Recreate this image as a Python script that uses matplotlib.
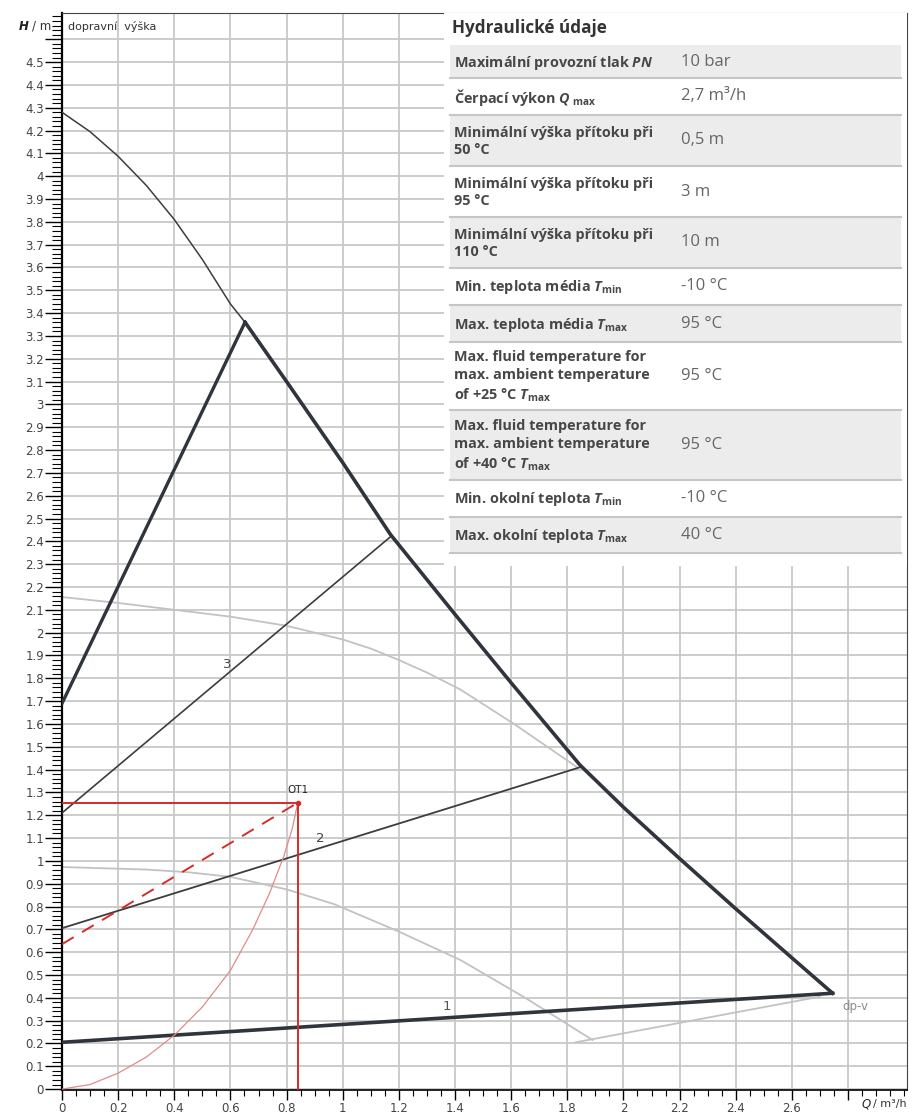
import matplotlib.pyplot as plt
import numpy as np
from matplotlib import ticker
from matplotlib.patches import Rectangle

plt.rcParams.update({'font.family': 'DejaVu Sans', 'font.size': 8.5,
                     'mathtext.fontset': 'custom',
                     'mathtext.rm': 'Open Sans:bold',
                     'mathtext.it': 'Open Sans:bold:italic',
                     'mathtext.bf': 'Open Sans:bold'})

DARK = '#2f343d'
THIN = '#3d3d3d'
LIGHT = '#c2c2c2'
RED = '#d52b2b'
PINK = '#e38a8a'

# pump curves (Q in m3/h, H in m)
max_q = [0, 0.1, 0.2, 0.3, 0.4, 0.5, 0.6, 0.652]
max_h = [4.28, 4.195, 4.087, 3.96, 3.81, 3.635, 3.44, 3.36]
edge_q = [0.652, 0.8, 1.0, 1.17, 1.4, 1.6, 1.845, 2.0, 2.2, 2.4, 2.6, 2.745]
edge_h = [3.36, 3.10, 2.745, 2.43, 2.08, 1.78, 1.42, 1.235, 1.01, 0.79, 0.575, 0.42]
left_q = [0, 0.652]
left_h = [1.69, 3.36]
line1_q = [0, 2.745]
line1_h = [0.205, 0.42]
line2_q = [0, 1.845]
line2_h = [0.705, 1.41]
line3_q = [0, 1.17]
line3_h = [1.21, 2.42]
gray_up_q = [0, 0.2, 0.4, 0.6, 0.8, 1.0, 1.1, 1.2, 1.3, 1.42, 1.61, 1.835]
gray_up_h = [2.156, 2.13, 2.10, 2.07, 2.03, 1.97, 1.93, 1.88, 1.825, 1.75, 1.60, 1.41]
gray_lo_q = [0, 0.3, 0.45, 0.6, 0.8, 0.97, 1.2, 1.42, 1.65, 1.89]
gray_lo_h = [0.973, 0.962, 0.95, 0.93, 0.875, 0.81, 0.69, 0.565, 0.40, 0.215]
gray_tail_q = [1.83, 2.70]
gray_tail_h = [0.205, 0.405]

# operating point OT1 and system curve
op_q, op_h = 0.84, 1.255
dash_q = [0, 0.84]
dash_h = [0.635, 1.255]
sys_q = [0, 0.1, 0.2, 0.3, 0.4, 0.5, 0.6, 0.68, 0.74, 0.79, 0.82, 0.84]
sys_h = [0, 0.02, 0.07, 0.14, 0.236, 0.36, 0.52, 0.70, 0.86, 1.02, 1.14, 1.255]

# table
table_title = 'Hydraulické údaje'
row_labels = ['Maximální provozní tlak $PN$',
              'Čerpací výkon $Q_{\\ \\mathrm{max}}$',
              'Minimální výška přítoku při\n50 °C',
              'Minimální výška přítoku při\n95 °C',
              'Minimální výška přítoku při\n110 °C',
              'Min. teplota média $T_{\\mathrm{min}}$',
              'Max. teplota média $T_{\\mathrm{max}}$',
              'Max. fluid temperature for\nmax. ambient temperature\nof +25 °C $T_{\\mathrm{max}}$',
              'Max. fluid temperature for\nmax. ambient temperature\nof +40 °C $T_{\\mathrm{max}}$',
              'Min. okolní teplota $T_{\\mathrm{min}}$',
              'Max. okolní teplota $T_{\\mathrm{max}}$']
row_values = ['10 bar', '2,7 m³/h', '0,5 m', '3 m', '10 m', '-10 °C', '95 °C',
              '95 °C', '95 °C', '-10 °C', '40 °C']

W, H = 913, 1117
fig = plt.figure(figsize=(W / 100, H / 100), dpi=100)
ax = fig.add_axes([62 / W, 1 - 1090 / H, 845 / W, 1077 / H])

ax.set_xlim(0, 3.01)
ax.set_ylim(-0.004, 4.715)

ax.plot(gray_up_q, gray_up_h, color=LIGHT, lw=1.3, zorder=2)
ax.plot(gray_lo_q, gray_lo_h, color=LIGHT, lw=1.3, zorder=2)
ax.plot(gray_tail_q, gray_tail_h, color=LIGHT, lw=1.3, zorder=2)
ax.plot(max_q, max_h, color=THIN, lw=1.1, zorder=3)
ax.plot(line2_q, line2_h, color=THIN, lw=1.3, zorder=3)
ax.plot(line3_q, line3_h, color=THIN, lw=1.2, zorder=3)
ax.plot(edge_q, edge_h, color=DARK, lw=2.6, zorder=4)
ax.plot(left_q, left_h, color=DARK, lw=2.4, zorder=4)
ax.plot(line1_q, line1_h, color=DARK, lw=2.6, zorder=4)

ax.plot(sys_q, sys_h, color=PINK, lw=0.9, zorder=5)
ax.plot(dash_q, dash_h, color=RED, lw=1.4, ls=(0, (7, 5)), zorder=5)
ax.plot([0, op_q], [op_h, op_h], color=RED, lw=1.4, zorder=5)
ax.plot([op_q, op_q], [op_h, 0], color=RED, lw=1.4, zorder=5)
ax.plot([op_q], [op_h], 'o', color=RED, ms=3, zorder=6)
ax.text(op_q, op_h + 0.035, 'OT1', ha='center', va='bottom', fontsize=7.5, color='#222222')

ax.text(1.37, 0.36, '1', fontsize=9.5, color='#555555', ha='center', va='center')
ax.text(0.92, 1.10, '2', fontsize=9.5, color='#444444', ha='center', va='center')
ax.text(0.59, 1.86, '3', fontsize=9.5, color='#444444', ha='center', va='center')
ax.text(2.78, 0.36, 'dp-v', fontsize=8.5, color='#8a8a8a', ha='left', va='center')
ax.text(0.02, 4.655, 'dopravní  výška', fontsize=8, color='#333333', ha='left', va='center')

# axes, ticks, grid
xmaj = np.arange(0, 2.81, 0.2)
ymaj = np.arange(0, 4.61, 0.1)
ax.xaxis.set_major_locator(ticker.FixedLocator(xmaj))
ax.xaxis.set_minor_locator(ticker.MultipleLocator(0.05))
ax.yaxis.set_major_locator(ticker.FixedLocator(ymaj))
ax.yaxis.set_minor_locator(ticker.MultipleLocator(0.02))
ax.xaxis.set_major_formatter(ticker.FuncFormatter(lambda v, p: '' if v > 2.7 else '%g' % round(v, 1)))
ax.yaxis.set_major_formatter(ticker.FuncFormatter(lambda v, p: '' if v > 4.55 else '%g' % round(v, 1)))
ax.grid(True, which='major', color='#c8c8c8', lw=1.3, zorder=0)
ax.set_axisbelow(True)
ax.tick_params(axis='y', which='major', direction='out', length=12, width=1, pad=1,
               labelsize=8.5, labelcolor='#444444')
ax.tick_params(axis='y', which='minor', direction='out', length=7, width=0.8)
ax.tick_params(axis='x', which='major', direction='out', length=7, width=1, pad=2,
               labelsize=8.5, labelcolor='#444444')
ax.tick_params(axis='x', which='minor', direction='out', length=4.5, width=0.8)
ax.spines['left'].set_linewidth(1.6)
ax.spines['bottom'].set_linewidth(1.2)
ax.spines['top'].set_color('#444444')
ax.spines['right'].set_color('#444444')

fig.text(29 / W, 1 - 26 / H, 'H', style='italic', fontweight='bold', fontsize=8.5,
         ha='right', va='center', color='#222222')
fig.text(32 / W, 1 - 26 / H, '/ m', fontsize=8.5, ha='left', va='center', color='#333333')
fig.text(862 / W, 1 - 1104 / H, 'Q', style='italic', fontsize=8.5, ha='left', va='center', color='#222222')
fig.text(873 / W, 1 - 1104 / H, '/ m³/h', fontsize=8, ha='left', va='center', color='#333333')

# table overlay, drawn in pixel coordinates
tx0, tx1, ty0, ty1 = 444, 907, 13, 566
tab = fig.add_axes([tx0 / W, 1 - ty1 / H, (tx1 - tx0) / W, (ty1 - ty0) / H])
tab.set_xlim(tx0, tx1)
tab.set_ylim(ty1, ty0)
tab.axis('off')
tab.add_patch(Rectangle((tx0, ty0), tx1 - tx0, ty1 - ty0, facecolor='white', edgecolor='none'))
tab.text(452, 28, table_title, fontsize=12.3, fontweight='bold', family='Open Sans',
         color='#333333', ha='left', va='center')

bounds = [45, 78, 115, 166, 217, 268, 305, 342, 410, 480, 517, 553]
for i, (lab, val) in enumerate(zip(row_labels, row_values)):
    top, bot = bounds[i], bounds[i + 1]
    if i % 2 == 0:
        tab.add_patch(Rectangle((450, top), 451, bot - top, facecolor='#ececec', edgecolor='none'))
    tab.plot([450, 901], [bot, bot], color='#c6c6c6', lw=1.5)
    mid = (top + bot) / 2
    tab.text(454, mid + 1, lab, fontsize=10.4, fontweight='bold', family='Open Sans',
             color='#474747', ha='left', va='center', linespacing=1.35)
    tab.text(681, mid, val, fontsize=12, family='Open Sans', color='#666666',
             ha='left', va='center')

fig.savefig('out.png', dpi=100)
